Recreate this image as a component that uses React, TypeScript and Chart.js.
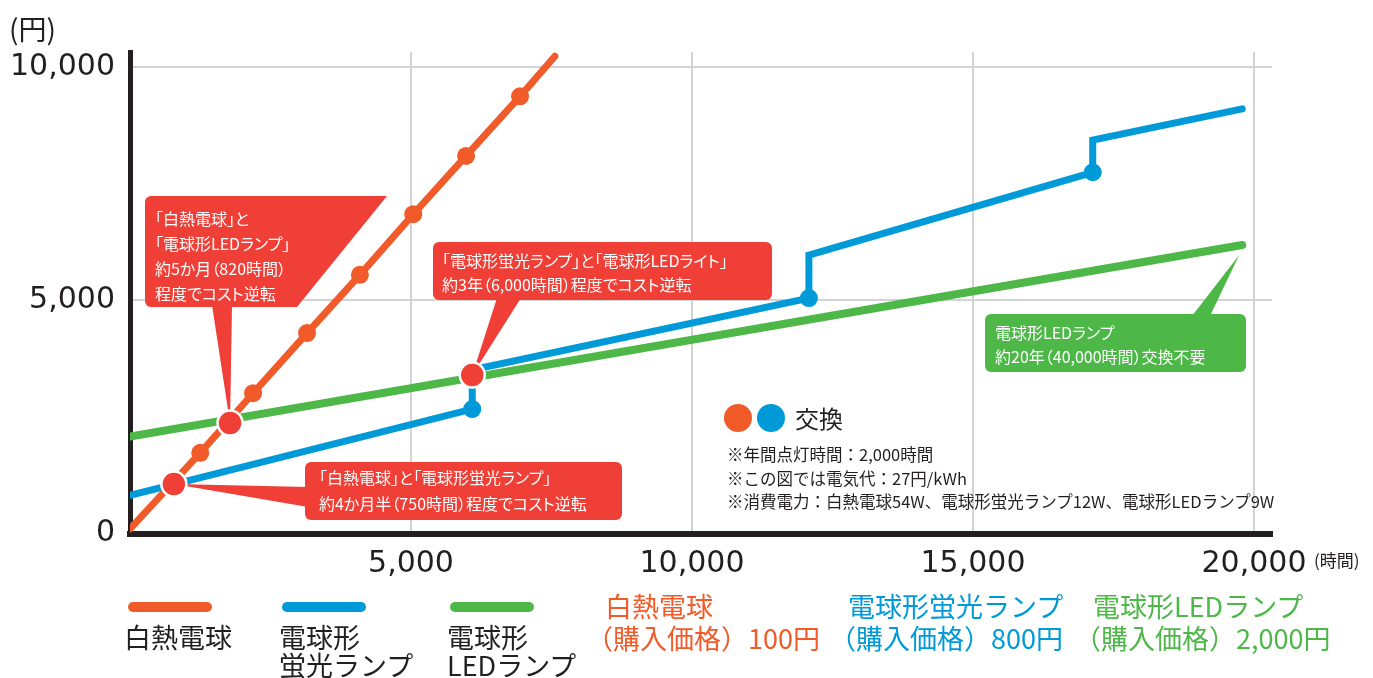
import React, { useEffect, useRef } from "react";
import { Chart, registerables } from "chart.js";
Chart.register(...registerables);

// ---- axes ----
const xTicks = [0, 5000, 10000, 15000, 20000];
const yTicks = [0, 5000, 10000];
const X_MAX = 20320;
const Y_MAX = 10330;

// ---- 白熱電球 (incandescent) ----
const incX = [0, 1250, 2190, 3150, 4090, 5040, 5980, 6940, 7560];
const incY = [100, 1730, 3010, 4300, 5550, 6850, 8100, 9380, 10240];
const incExchange = [false, true, true, true, true, true, true, true, false];

// ---- 電球形蛍光ランプ (fluorescent) ----
const fluoX = [0, 6090, 6090, 12080, 12080, 17130, 17130, 19790];
const fluoY = [820, 2670, 3510, 5050, 5970, 7750, 8440, 9110];
const fluoExchange = [false, true, false, true, false, true, false, false];

// ---- 電球形LEDランプ ----
const ledX = [0, 19790];
const ledY = [2080, 6190];

// ---- cost crossover points ----
const crossX = [780, 1780, 6090];
const crossY = [1060, 2370, 3400];

const ORANGE = "#f15a29";
const BLUE = "#009ad9";
const GREEN = "#4db848";
const RED = "#ef3f37";
const DARK = "#231f20";
const GRID = "#d1d3d4";
const JP = "'Noto Sans CJK JP', 'Noto Sans', sans-serif";
const NUM = "'DejaVu Sans', sans-serif";

const pts = (xs: number[], ys: number[]) => xs.map((x, i) => ({ x, y: ys[i] }));

const calloutPlugin = {
  id: "callouts",
  beforeDatasetsDraw(chart: any) {
    const ctx = chart.ctx as CanvasRenderingContext2D;
    const xs = chart.scales.x;
    const ys = chart.scales.y;
    const cx = (i: number) => xs.getPixelForValue(crossX[i]);
    const cy = (i: number) => ys.getPixelForValue(crossY[i]);
    ctx.save();
    ctx.fillStyle = RED;
    // Box A (slanted right edge)
    ctx.beginPath();
    ctx.moveTo(151, 196);
    ctx.lineTo(387, 196);
    ctx.lineTo(297, 307);
    ctx.lineTo(151, 307);
    ctx.arcTo(145, 307, 145, 301, 6);
    ctx.lineTo(145, 202);
    ctx.arcTo(145, 196, 151, 196, 6);
    ctx.closePath();
    ctx.fill();
    ctx.beginPath();
    ctx.moveTo(212, 305);
    ctx.lineTo(232, 305);
    ctx.lineTo(cx(1), cy(1));
    ctx.closePath();
    ctx.fill();
    // Box B
    ctx.beginPath();
    (ctx as any).roundRect(433, 242, 339, 58, 6);
    ctx.fill();
    ctx.beginPath();
    ctx.moveTo(497, 298);
    ctx.lineTo(521, 298);
    ctx.lineTo(cx(2), cy(2));
    ctx.closePath();
    ctx.fill();
    // Box C
    ctx.beginPath();
    (ctx as any).roundRect(305, 462, 317, 58, 6);
    ctx.fill();
    ctx.beginPath();
    ctx.moveTo(308, 487);
    ctx.lineTo(308, 507);
    ctx.lineTo(cx(0), cy(0));
    ctx.closePath();
    ctx.fill();
    // Box D (green)
    ctx.fillStyle = GREEN;
    ctx.beginPath();
    (ctx as any).roundRect(985, 314, 261, 58, 6);
    ctx.fill();
    ctx.beginPath();
    ctx.moveTo(1192, 316);
    ctx.lineTo(1210, 316);
    ctx.lineTo(xs.getPixelForValue(ledX[1]) - 3, ys.getPixelForValue(ledY[1]) + 10);
    ctx.closePath();
    ctx.fill();
    ctx.restore();
  },
};

const txt = (
  left: number,
  top: number,
  size: number,
  lh: number,
  color: string,
  lines: string[],
  palt = false
) => (
  <div
    style={{
      position: "absolute",
      left,
      top,
      fontFamily: JP,
      fontSize: size,
      lineHeight: lh + "px",
      color,
      whiteSpace: "nowrap",
      fontFeatureSettings: palt ? '"palt"' : "normal",
    }}
  >
    {lines.map((l, i) => (
      <div key={i}>{l}</div>
    ))}
  </div>
);

export default function App() {
  const ref = useRef<HTMLCanvasElement>(null);
  useEffect(() => {
    const chart = new Chart(ref.current as HTMLCanvasElement, {
      type: "line",
      data: {
        datasets: [
          {
            type: "scatter",
            data: pts(crossX, crossY),
            showLine: false,
            pointRadius: 12.5,
            pointBackgroundColor: RED,
            pointBorderColor: "#ffffff",
            pointBorderWidth: 2.5,
          } as any,
          {
            data: pts(incX, incY),
            borderColor: ORANGE,
            backgroundColor: ORANGE,
            borderWidth: 7,
            borderCapStyle: "round",
            borderJoinStyle: "round",
            pointRadius: incExchange.map((e) => (e ? 9 : 0)),
            pointBackgroundColor: ORANGE,
            pointBorderWidth: 0,
            tension: 0,
          },
          {
            data: pts(fluoX, fluoY),
            borderColor: BLUE,
            backgroundColor: BLUE,
            borderWidth: 7,
            borderCapStyle: "round",
            borderJoinStyle: "miter",
            pointRadius: fluoExchange.map((e) => (e ? 9 : 0)),
            pointBackgroundColor: BLUE,
            pointBorderWidth: 0,
            tension: 0,
          },
          {
            data: pts(ledX, ledY),
            borderColor: GREEN,
            backgroundColor: GREEN,
            borderWidth: 8,
            borderCapStyle: "round",
            pointRadius: 0,
            tension: 0,
          },
        ],
      },
      options: {
        responsive: false,
        animation: false,
        devicePixelRatio: 1,
        events: [],
        layout: { padding: { top: 52, right: 101, left: 0, bottom: 0 } },
        plugins: { legend: { display: false }, tooltip: { enabled: false } },
        scales: {
          x: {
            type: "linear",
            min: 0,
            max: X_MAX,
            afterBuildTicks: (s: any) => {
              s.ticks = xTicks.map((v) => ({ value: v }));
            },
            afterFit: (s: any) => {
              s.height = 678 - 533.5;
            },
            grid: {
              color: (c: any) => (c.tick && c.tick.value === 0 ? "rgba(0,0,0,0)" : GRID),
              lineWidth: 2,
              drawTicks: false,
            },
            border: { color: DARK, width: 6 },
            ticks: {
              padding: 13,
              color: DARK,
              font: { family: NUM, size: 30 },
              maxRotation: 0,
              callback: (v: any) => (v === 0 ? "" : Number(v).toLocaleString("en-US")),
            },
          },
          y: {
            type: "linear",
            min: 0,
            max: Y_MAX,
            afterBuildTicks: (s: any) => {
              s.ticks = yTicks.map((v) => ({ value: v }));
            },
            afterFit: (s: any) => {
              s.width = 130;
            },
            grid: {
              color: (c: any) => (c.tick && c.tick.value === 0 ? "rgba(0,0,0,0)" : GRID),
              lineWidth: 2,
              drawTicks: false,
            },
            border: { color: DARK, width: 5 },
            ticks: {
              padding: 15,
              color: DARK,
              font: { family: NUM, size: 30 },
              callback: (v: any) => Number(v).toLocaleString("en-US"),
            },
          },
        },
      },
      plugins: [calloutPlugin],
    } as any);
    return () => chart.destroy();
  }, []);

  const bar = (left: number, color: string) => (
    <div
      style={{
        position: "absolute",
        left,
        top: 602,
        width: 84,
        height: 10,
        borderRadius: 5,
        background: color,
      }}
    />
  );
  const dot = (left: number, color: string) => (
    <div
      style={{
        position: "absolute",
        left: left - 14,
        top: 404,
        width: 28,
        height: 28,
        borderRadius: 14,
        background: color,
      }}
    />
  );

  return (
    <div
      style={{
        position: "absolute",
        left: 0,
        top: 0,
        width: 1373,
        height: 678,
        overflow: "hidden",
        background: "#ffffff",
      }}
    >
      <canvas
        ref={ref}
        width={1373}
        height={678}
        style={{ position: "absolute", left: 0, top: 0, width: 1373, height: 678 }}
      />
      {txt(9, 9, 28, 38, DARK, ["(円)"])}
      {txt(1314, 548, 17, 24, DARK, ["(時間)"])}
      {txt(155, 206, 16, 25, "#ffffff", ["「白熱電球」と", "「電球形LEDランプ」", "約5か月（820時間）", "程度でコスト逆転"], true)}
      {txt(442, 248, 16, 24, "#ffffff", ["「電球形蛍光ランプ」と「電球形LEDライト」", "約3年（6,000時間）程度でコスト逆転"], true)}
      {txt(319, 464, 16, 26, "#ffffff", ["「白熱電球」と「電球形蛍光ランプ」", "約4か月半（750時間）程度でコスト逆転"], true)}
      {txt(995, 320, 16, 24, "#ffffff", ["電球形LEDランプ", "約20年（40,000時間）交換不要"], true)}
      {dot(738, ORANGE)}
      {dot(771, BLUE)}
      {txt(795, 403, 24, 30, DARK, ["交換"])}
      {txt(727, 443, 16.5, 23.5, DARK, [
        "※年間点灯時間：2,000時間",
        "※この図では電気代：27円/kWh",
        "※消費電力：白熱電球54W、電球形蛍光ランプ12W、電球形LEDランプ9W",
      ])}
      {bar(128, ORANGE)}
      {bar(282, BLUE)}
      {bar(450, GREEN)}
      {txt(124, 623, 27, 28, DARK, ["白熱電球"])}
      {txt(279, 623, 27, 28, DARK, ["電球形", "蛍光ランプ"])}
      {txt(447, 623, 27, 28, DARK, ["電球形", "LEDランプ"])}
      {txt(605, 590, 27, 32, ORANGE, ["白熱電球"])}
      {txt(586, 622, 27, 32, ORANGE, ["（購入価格）100円"])}
      {txt(848, 590, 27, 32, BLUE, ["電球形蛍光ランプ"])}
      {txt(829, 622, 27, 32, BLUE, ["（購入価格）800円"])}
      {txt(1093, 590, 27, 32, GREEN, ["電球形LEDランプ"])}
      {txt(1074, 622, 27, 32, GREEN, ["（購入価格）2,000円"])}
    </div>
  );
}
